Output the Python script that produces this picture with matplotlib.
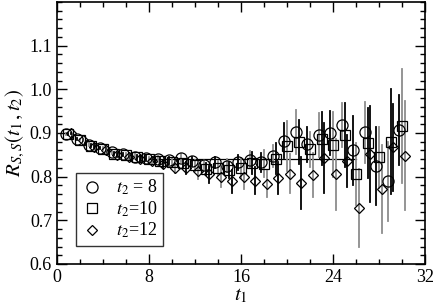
import numpy as np
import matplotlib
matplotlib.use('Agg')
import matplotlib.pyplot as plt
from matplotlib.ticker import MultipleLocator

plt.rcParams['font.family'] = ['Liberation Serif', 'DejaVu Serif']
plt.rcParams['mathtext.fontset'] = 'stix'

# t1 values and R_{S,S}(t1,t2) for each t2
t1 = np.arange(1, 31)

r_t8 = [0.898, 0.886, 0.873, 0.866, 0.856, 0.851, 0.846, 0.843, 0.840, 0.838,
        0.842, 0.835, 0.827, 0.833, 0.825, 0.833, 0.839, 0.833, 0.848, 0.882,
        0.903, 0.874, 0.895, 0.900, 0.918, 0.860, 0.902, 0.824, 0.789, 0.906]
e_t8 = [0.002, 0.002, 0.003, 0.003, 0.004, 0.004, 0.005, 0.006, 0.007, 0.008,
        0.009, 0.010, 0.011, 0.013, 0.015, 0.017, 0.020, 0.022, 0.025, 0.040,
        0.050, 0.040, 0.050, 0.050, 0.050, 0.080, 0.070, 0.090, 0.090, 0.080]

r_t10 = [0.897, 0.885, 0.871, 0.864, 0.853, 0.849, 0.844, 0.840, 0.837, 0.833,
         0.831, 0.826, 0.818, 0.820, 0.815, 0.820, 0.832, 0.830, 0.841, 0.870,
         0.880, 0.863, 0.887, 0.873, 0.895, 0.806, 0.877, 0.844, 0.880, 0.916]
e_t10 = [0.002, 0.002, 0.003, 0.003, 0.004, 0.005, 0.005, 0.006, 0.007, 0.009,
         0.010, 0.012, 0.014, 0.016, 0.018, 0.022, 0.025, 0.030, 0.035, 0.057,
         0.050, 0.040, 0.060, 0.074, 0.074, 0.070, 0.080, 0.070, 0.120, 0.130]

r_t12 = [0.899, 0.884, 0.869, 0.861, 0.850, 0.845, 0.840, 0.836, 0.829, 0.820,
         0.820, 0.812, 0.805, 0.799, 0.789, 0.799, 0.791, 0.783, 0.797, 0.807,
         0.786, 0.804, 0.842, 0.805, 0.836, 0.728, 0.852, 0.772, 0.867, 0.848]
e_t12 = [0.002, 0.003, 0.003, 0.004, 0.005, 0.006, 0.007, 0.008, 0.010, 0.012,
         0.014, 0.017, 0.020, 0.022, 0.027, 0.028, 0.030, 0.030, 0.036, 0.044,
         0.059, 0.050, 0.080, 0.081, 0.060, 0.090, 0.110, 0.100, 0.100, 0.125]

fit_value = 0.841
fit_range = [8, 26]

labels = [r'$t_2$ = 8', r'$t_2$=10', r'$t_2$=12']

fig = plt.figure(figsize=(4.36, 3.08), dpi=100)
ax = fig.add_axes([0.1307, 0.1429, 0.8441, 0.8506])

series = [(r_t8, e_t8, 'o', -0.22, 0), (r_t10, e_t10, 's', 0.0, 1), (r_t12, e_t12, 'D', 0.22, 1)]
handles = []
for (r, e, m, dx, parity), lab in zip(series, labels):
    x = t1 + dx
    # error bar colour alternates between black and grey
    for xi, ri, ei, ti in zip(x, r, e, t1):
        c = 'black' if (ti % 2 == parity) else '#8c8c8c'
        ax.plot([xi, xi], [ri - ei, ri + ei], color=c, lw=1.3, zorder=2)
    ms = 8 if m == 'o' else (6.5 if m == 's' else 5.5)
    h, = ax.plot(x, r, m, ms=ms, mfc='none', mec='black', mew=0.9, zorder=3, label=lab)
    handles.append(h)

ax.plot(fit_range, [fit_value, fit_value], color='black', lw=0.9, zorder=1)

ax.set_xlim(0, 32)
ax.set_ylim(0.6, 1.2)
ax.xaxis.set_major_locator(MultipleLocator(8))
ax.xaxis.set_minor_locator(MultipleLocator(2))
ax.yaxis.set_major_locator(MultipleLocator(0.1))
ax.yaxis.set_minor_locator(MultipleLocator(0.02))
ax.set_yticks([0.6, 0.7, 0.8, 0.9, 1.0, 1.1])
ax.set_yticklabels(['0.6', '0.7', '0.8', '0.9', '1.0', '1.1'])
ax.tick_params(which='both', direction='in', top=True, right=True, labelsize=13, width=1)
ax.tick_params(which='major', length=7)
ax.tick_params(which='minor', length=3.5)
for s in ax.spines.values():
    s.set_linewidth(1.2)

ax.set_xlabel(r'$t_1$', fontsize=15, labelpad=0)
ax.set_ylabel(r'$R_{S,S}(t_1\,,t_2)$', fontsize=15, labelpad=2)

leg = ax.legend(handles=handles, loc='lower left', bbox_to_anchor=(0.052, 0.069),
                fontsize=13, frameon=True, fancybox=False, edgecolor='black',
                handlelength=1.2, handletextpad=0.7, borderpad=0.3, labelspacing=0.12,
                numpoints=1, borderaxespad=0)
leg.get_frame().set_linewidth(1.0)

fig.savefig('out.png', dpi=100)
